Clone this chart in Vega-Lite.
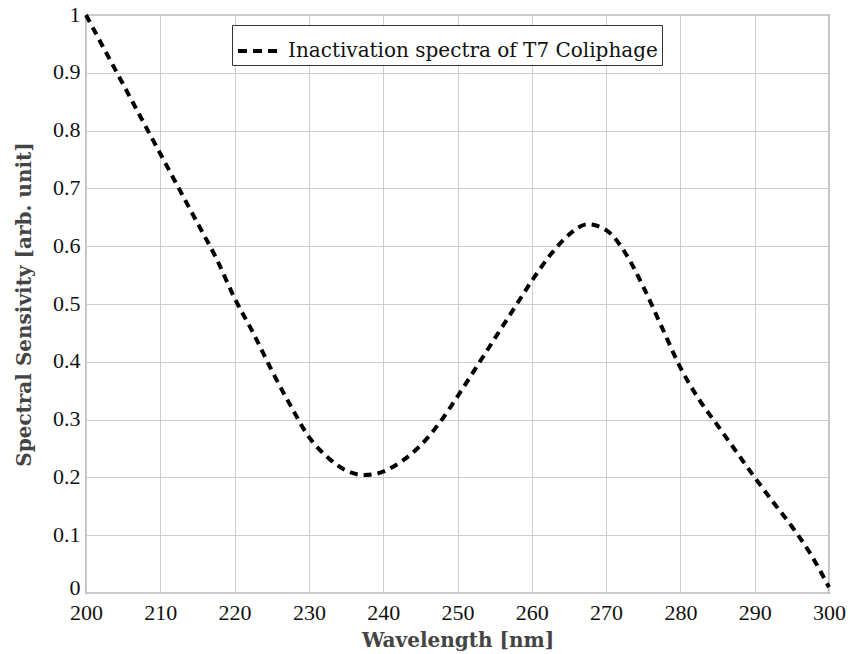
{
  "$schema": "https://vega.github.io/schema/vega-lite/v6.json",
  "width": 743,
  "height": 578,
  "autosize": {"type": "none"},
  "padding": {"left": 86, "top": 15, "right": 21, "bottom": 61},
  "background": "white",
  "config": {
    "font": "Liberation Serif",
    "view": {"stroke": "#333333", "strokeWidth": 1.2},
    "axis": {
      "labelFont": "Liberation Serif",
      "labelFontSize": 22,
      "labelColor": "#111111",
      "titleFont": "DejaVu Serif",
      "titleFontSize": 20,
      "titleFontWeight": "bold",
      "titleColor": "#444444",
      "gridColor": "#cccccc",
      "gridWidth": 1,
      "domain": false,
      "ticks": false
    }
  },
  "data": {
    "values": [
      {"wl": 200, "s": 1.0, "series": "Inactivation spectra of T7 Coliphage"},
      {"wl": 202.5, "s": 0.94, "series": "Inactivation spectra of T7 Coliphage"},
      {"wl": 205, "s": 0.88, "series": "Inactivation spectra of T7 Coliphage"},
      {"wl": 207.5, "s": 0.82, "series": "Inactivation spectra of T7 Coliphage"},
      {"wl": 210, "s": 0.76, "series": "Inactivation spectra of T7 Coliphage"},
      {"wl": 212.5, "s": 0.70, "series": "Inactivation spectra of T7 Coliphage"},
      {"wl": 215, "s": 0.64, "series": "Inactivation spectra of T7 Coliphage"},
      {"wl": 217.5, "s": 0.58, "series": "Inactivation spectra of T7 Coliphage"},
      {"wl": 220, "s": 0.51, "series": "Inactivation spectra of T7 Coliphage"},
      {"wl": 222.5, "s": 0.45, "series": "Inactivation spectra of T7 Coliphage"},
      {"wl": 225, "s": 0.385, "series": "Inactivation spectra of T7 Coliphage"},
      {"wl": 227.5, "s": 0.325, "series": "Inactivation spectra of T7 Coliphage"},
      {"wl": 230, "s": 0.27, "series": "Inactivation spectra of T7 Coliphage"},
      {"wl": 232.5, "s": 0.235, "series": "Inactivation spectra of T7 Coliphage"},
      {"wl": 235, "s": 0.212, "series": "Inactivation spectra of T7 Coliphage"},
      {"wl": 237.5, "s": 0.204, "series": "Inactivation spectra of T7 Coliphage"},
      {"wl": 240, "s": 0.21, "series": "Inactivation spectra of T7 Coliphage"},
      {"wl": 242.5, "s": 0.228, "series": "Inactivation spectra of T7 Coliphage"},
      {"wl": 245, "s": 0.255, "series": "Inactivation spectra of T7 Coliphage"},
      {"wl": 247.5, "s": 0.293, "series": "Inactivation spectra of T7 Coliphage"},
      {"wl": 250, "s": 0.34, "series": "Inactivation spectra of T7 Coliphage"},
      {"wl": 252.5, "s": 0.39, "series": "Inactivation spectra of T7 Coliphage"},
      {"wl": 255, "s": 0.44, "series": "Inactivation spectra of T7 Coliphage"},
      {"wl": 257.5, "s": 0.49, "series": "Inactivation spectra of T7 Coliphage"},
      {"wl": 260, "s": 0.54, "series": "Inactivation spectra of T7 Coliphage"},
      {"wl": 262.5, "s": 0.585, "series": "Inactivation spectra of T7 Coliphage"},
      {"wl": 265, "s": 0.62, "series": "Inactivation spectra of T7 Coliphage"},
      {"wl": 267.5, "s": 0.638, "series": "Inactivation spectra of T7 Coliphage"},
      {"wl": 270, "s": 0.628, "series": "Inactivation spectra of T7 Coliphage"},
      {"wl": 272.5, "s": 0.59, "series": "Inactivation spectra of T7 Coliphage"},
      {"wl": 275, "s": 0.53, "series": "Inactivation spectra of T7 Coliphage"},
      {"wl": 277.5, "s": 0.46, "series": "Inactivation spectra of T7 Coliphage"},
      {"wl": 280, "s": 0.39, "series": "Inactivation spectra of T7 Coliphage"},
      {"wl": 282.5, "s": 0.335, "series": "Inactivation spectra of T7 Coliphage"},
      {"wl": 285, "s": 0.29, "series": "Inactivation spectra of T7 Coliphage"},
      {"wl": 287.5, "s": 0.245, "series": "Inactivation spectra of T7 Coliphage"},
      {"wl": 290, "s": 0.2, "series": "Inactivation spectra of T7 Coliphage"},
      {"wl": 292.5, "s": 0.157, "series": "Inactivation spectra of T7 Coliphage"},
      {"wl": 295, "s": 0.115, "series": "Inactivation spectra of T7 Coliphage"},
      {"wl": 297.5, "s": 0.068, "series": "Inactivation spectra of T7 Coliphage"},
      {"wl": 300, "s": 0.01, "series": "Inactivation spectra of T7 Coliphage"}
    ]
  },
  "mark": {"type": "line", "interpolate": "monotone", "strokeWidth": 4, "strokeDash": [8, 6], "clip": false},
  "encoding": {
    "x": {
      "field": "wl", "type": "quantitative",
      "scale": {"domain": [200, 300], "nice": false, "zero": false},
      "axis": {"values": [200, 210, 220, 230, 240, 250, 260, 270, 280, 290, 300], "title": "Wavelength [nm]", "labelFont": "Liberation Serif", "labelFontSize": 22, "labelPadding": 9, "titlePadding": 7, "labelFlush": false}
    },
    "y": {
      "field": "s", "type": "quantitative",
      "scale": {"domain": [0, 1], "nice": false},
      "axis": {"values": [0, 0.1, 0.2, 0.3, 0.4, 0.5, 0.6, 0.7, 0.8, 0.9, 1], "format": "~g", "title": "Spectral Sensivity [arb. unit]", "labelFont": "Liberation Serif", "labelFontSize": 22, "labelPadding": 6, "labelOffset": {"condition": {"test": "datum.value == 0", "value": -6}, "value": -1}, "titlePadding": 18, "labelFlush": false, "labelExpr": "datum.value == 0 ? '0 ' : datum.label"}
    },
    "color": {
      "field": "series", "type": "nominal",
      "scale": {"range": ["black"]},
      "legend": {
        "title": null,
        "orient": "none",
        "legendX": 146,
        "legendY": 10,
        "symbolType": "M-1,0L1,0",
        "symbolStrokeWidth": 4,
        "symbolDash": [9, 6],
        "symbolSize": 1600,
        "symbolFillColor": "transparent",
        "labelFont": "DejaVu Serif",
        "labelFontSize": 20,
        "labelColor": "#111111",
        "labelOffset": 8,
        "strokeColor": "#333333",
        "fillColor": "white",
        "padding": 4,
        "cornerRadius": 0,
        "labelLimit": 500
      }
    }
  }
}
